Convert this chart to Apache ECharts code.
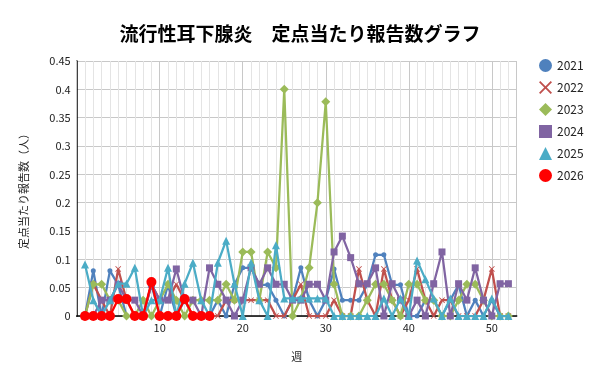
<!DOCTYPE html>
<html>
<head>
<meta charset="utf-8">
<script src="https://cdn.jsdelivr.net/npm/echarts@6/dist/echarts.min.js"></script>
<style>html,body{margin:0;padding:0;background:#fff}#c{width:600px;height:384px}</style>
</head>
<body>
<div id="c"></div>
<script>
const weeks = [1,2,3,4,5,6,7,8,9,10,11,12,13,14,15,16,17,18,19,20,21,22,23,24,25,26,27,28,29,30,31,32,33,34,35,36,37,38,39,40,41,42,43,44,45,46,47,48,49,50,51,52];
const seriesNames = ['2021','2022','2023','2024','2025','2026'];
const yTicks = [0,0.05,0.1,0.15,0.2,0.25,0.3,0.35,0.4,0.45];
const xTicks = [10,20,30,40,50];

const v2021 = [0,0.08,0,0.08,0.055,0,0,0,0.055,0,0.055,0,0.028,0,0,0,0.028,0,0.055,0.085,0.085,0.055,0.055,0.028,0,0.028,0.085,0.028,0,0.028,0.083,0.028,0.028,0.028,0.055,0.108,0.108,0.055,0.055,0,0,0.028,0.028,0,0.028,0.055,0,0.028,0,0.028,0,0];
const v2022 = [0,0.056,0.028,0,0.083,0.028,0,0,0.056,0.028,0.028,0.056,0.028,0,0,0,0,0.028,0.028,0.028,0.028,0.028,0.028,0,0,0.028,0.056,0,0,0,0.028,0,0,0.083,0.028,0,0.083,0.028,0,0.028,0.083,0.028,0,0.028,0.028,0,0,0,0.028,0.083,0,0];
const v2023 = [0,0.056,0.056,0.028,0.028,0,0,0.028,0,0.028,0.056,0.028,0,0.028,0.028,0.028,0.028,0.056,0.028,0.113,0.113,0.028,0.113,0.085,0.4,0,0.03,0.085,0.2,0.378,0.056,0,0,0,0.028,0.056,0.056,0.028,0,0.056,0.056,0.028,0.028,0,0,0.028,0.056,0.056,0.028,0,0,0];
const v2024 = [0,0,0.028,0.028,0.056,0.028,0.028,0,0.056,0.028,0.028,0.083,0.028,0.028,0,0.085,0.056,0.028,0,0.028,0.085,0.056,0.085,0.056,0.056,0.028,0.028,0.056,0.056,0.028,0.113,0.141,0.103,0.057,0.057,0.085,0,0.057,0.028,0,0.028,0,0.057,0.113,0,0.057,0.028,0.085,0.028,0,0.057,0.057];
const v2025 = [0.091,0.028,0,0.028,0.057,0.057,0.085,0,0.028,0.028,0.085,0,0.057,0.094,0.028,0,0.094,0.133,0.057,0,0.094,0.028,0,0.125,0.031,0.031,0.031,0.031,0.031,0.031,0,0,0,0,0,0,0.031,0,0.031,0,0.098,0.065,0.031,0,0.031,0,0,0,0,0.031,0,0];
const v2026 = [0,0,0,0,0.03,0.03,0,0,0.06,0,0,0,0.03,0,0,0];

const values = [v2021,v2022,v2023,v2024,v2025,v2026];
const colors = ['#4f81bd','#c0504d','#9bbb59','#8064a2','#4bacc6','#ff0000'];
const xPath = 'path://M1,0 L5,4 L9,0 L10,1 L6,5 L10,9 L9,10 L5,6 L1,10 L0,9 L4,5 L0,1 Z';
const symbols = ['circle', xPath, 'diamond', 'rect', 'triangle', 'circle'];
const symbolSizes = [5, 6, 9, 7, 8, 10];
const legendIcons = ['circle', xPath, 'diamond', 'rect', 'triangle', 'circle'];

const font = '"Noto Sans CJK JP", "Noto Sans", sans-serif';

const series = seriesNames.map((name, i) => ({
  name: name,
  type: 'line',
  xAxisIndex: 0,
  data: values[i].map((v, k) => [weeks[k], v]),
  symbol: symbols[i],
  symbolSize: symbolSizes[i],
  showAllSymbol: true,
  lineStyle: { width: 2.25, color: colors[i] },
  itemStyle: { color: colors[i] },
  emphasis: { disabled: true },
  animation: false,
  z: 2 + i
}));

const chart = echarts.init(document.getElementById('c'), null, { renderer: 'canvas' });
chart.setOption({
  animation: false,
  textStyle: { fontFamily: font },
  title: {
    text: '流行性耳下腺炎　定点当たり報告数グラフ',
    left: 'center',
    top: 19,
    textStyle: { fontSize: 19, fontWeight: 'bold', color: '#000', fontFamily: font }
  },
  legend: {
    orient: 'vertical',
    left: 534,
    top: 54,
    itemWidth: 13,
    itemHeight: 13,
    itemGap: 9,
    textStyle: { fontSize: 12, color: '#222', fontFamily: font },
    data: seriesNames.map((n, i) => ({ name: n, icon: legendIcons[i] }))
  },
  grid: { left: 76.7, right: 83.3, top: 61, bottom: 68, containLabel: false },
  xAxis: [
    {
      type: 'value', min: 0, max: 53, interval: 10,
      name: '週', nameLocation: 'middle', nameGap: 35,
      nameTextStyle: { fontSize: 11, color: '#222', fontFamily: font },
      axisLine: { show: true, lineStyle: { color: '#000', width: 1.5 } },
      axisTick: { show: false },
      axisLabel: {
        fontSize: 11, color: '#222', margin: 6, fontFamily: font,
        formatter: v => (xTicks.indexOf(v) >= 0 ? String(v) : '')
      },
      splitLine: { show: true, lineStyle: { color: '#c8c8c8', width: 1 } },
      z: 1
    },
    {
      type: 'value', min: 0, max: 53, interval: 1, position: 'bottom',
      axisLine: { show: false }, axisTick: { show: false }, axisLabel: { show: false },
      splitLine: { show: true, lineStyle: { color: '#e4e4e4', width: 1 } },
      z: 0
    }
  ],
  yAxis: {
    type: 'value', min: 0, max: 0.45, interval: 0.05,
    name: '定点当たり報告数（人）', nameLocation: 'middle', nameGap: 47,
    nameTextStyle: { fontSize: 11, color: '#222', fontFamily: font },
    axisLine: { show: true, lineStyle: { color: '#000', width: 1.5 } },
    axisTick: { show: false },
    axisLabel: {
      fontSize: 11, color: '#222', margin: 6, fontFamily: font,
      formatter: v => { const t = yTicks.find(y => Math.abs(y - v) < 1e-9); return t === undefined ? '' : String(t); }
    },
    splitLine: { show: true, lineStyle: { color: '#c8c8c8', width: 1 } }
  },
  series: series
});
</script>
</body>
</html>
